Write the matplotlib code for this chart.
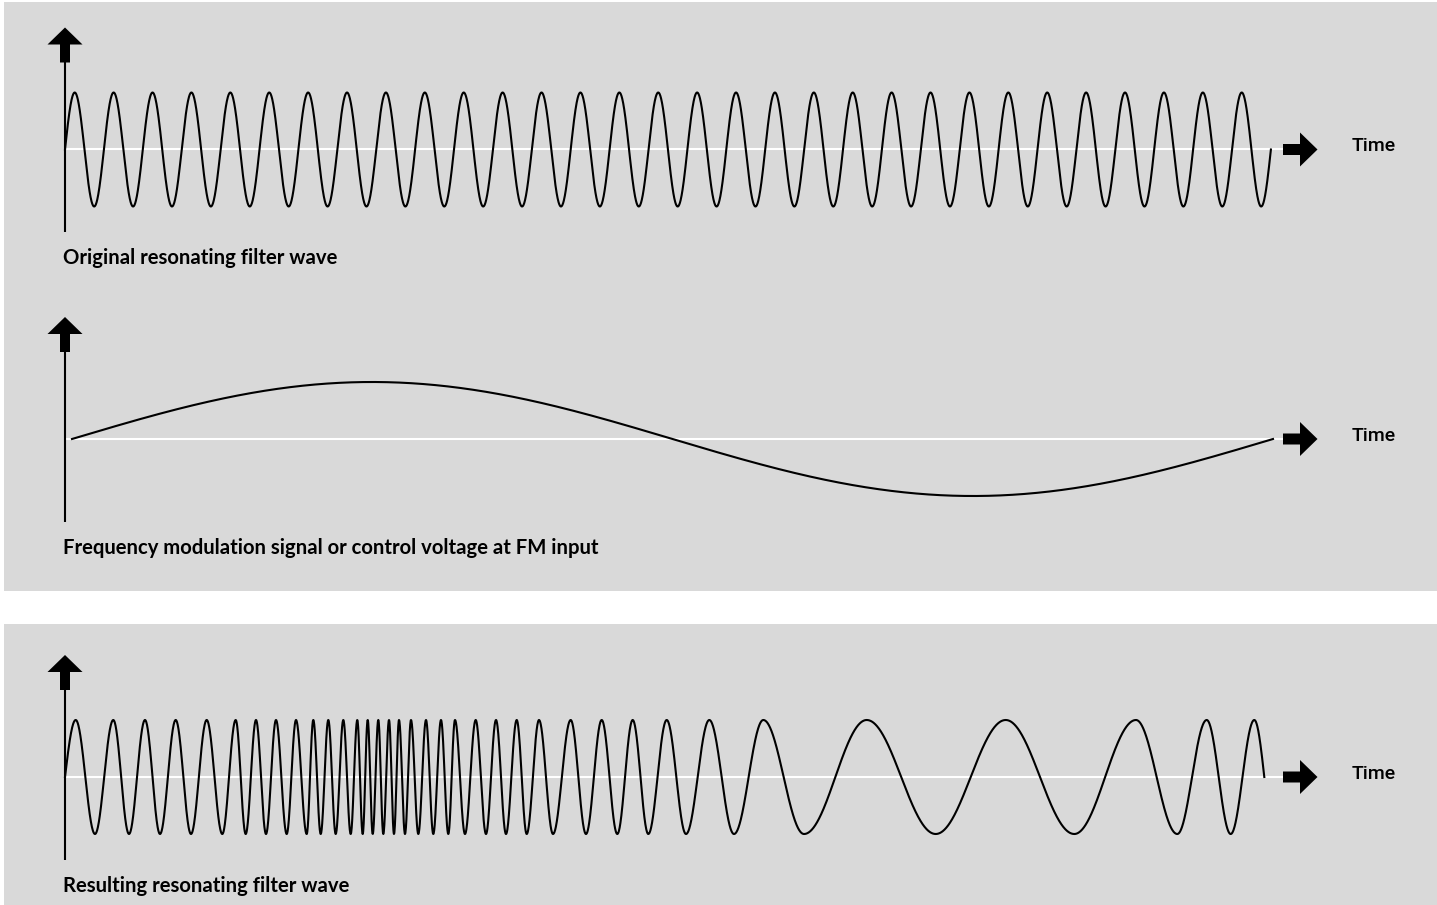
import numpy as np
import matplotlib.pyplot as plt
from matplotlib.patches import Rectangle, Polygon

W, H, DPI = 1437, 905, 100
GREY = '#d9d9d9'
PX_PER_AMP = 57.0          # vertical pixels per unit of amplitude

# ---- data (time measured from the vertical axis, original period ~38.9) ----
original_cycles = 31
original_period = 38.9

# modulation signal: start, extrema (peak, trough), end
fm_start = 7
fm_extrema = [307, 908]
fm_end = 1208

# resulting wave: alternating peak / trough times
result_start = 0
result_extrema = [
    10.7, 30, 48.3, 64, 80, 95, 110.7, 126, 141.7, 157.3,
    170.7, 180.7, 191, 201, 211, 221.7, 231, 241.7, 248.3, 255.7,
    263.3, 270.7, 278.3, 285.7, 292.3, 297.7, 302.7, 307.7, 313.3, 318.3,
    324, 329, 334, 340, 346, 353.3, 361, 368.3, 376, 383.3,
    390, 400, 410.7, 421, 431, 441, 451.7, 461.7, 474, 488,
    505.7, 521, 536.7, 552.3, 567.7, 583.3, 601.7, 621, 644.3, 669,
    698.3, 739, 801.7, 870.7, 940.7, 1009.3, 1071, 1112.3, 1141.7, 1165.7,
    1189.3,
]
result_end = 1199.3

labels = [
    'Original resonating filter wave',
    'Frequency modulation signal or control voltage at FM input',
    'Resulting resonating filter wave',
]
axis_label = 'Time'

# zero line of each plot, in pixels from the top of the figure
zero_rows = [149.5, 439, 777]


def wave(t0, extrema, t1, n=5000):
    # phase is 0 at the start, pi/2 + k*pi at each extremum,
    # and the curve ends on the next zero crossing
    kt = np.concatenate([[t0], extrema, [t1]])
    kp = np.concatenate([[0], np.pi / 2 + np.pi * np.arange(len(extrema)),
                         [np.pi * len(extrema)]])
    t = np.linspace(t0, t1, n)
    return t, np.sin(np.interp(t, kt, kp))


def py(px):
    return px / PX_PER_AMP


def decorate(ax, label):
    # white zero line
    ax.plot([0, 1218], [0, 0], color='white', lw=1.5, zorder=1,
            solid_capstyle='butt')
    # vertical axis and its block arrow
    ax.plot([0, 0], [py(88), py(-83)], color='black', lw=1.5, zorder=3,
            solid_capstyle='butt')
    up = [(-5, 87), (-5, 105), (-17.5, 105), (0, 122), (17.5, 105),
          (5, 105), (5, 87)]
    ax.add_patch(Polygon([(x, py(y)) for x, y in up], closed=True,
                         facecolor='black', edgecolor='none', zorder=4))
    # time arrow
    right = [(1218, -5.5), (1235, -5.5), (1235, -17), (1252.5, 0),
             (1235, 17), (1235, 5.5), (1218, 5.5)]
    ax.add_patch(Polygon([(x, py(y)) for x, y in right], closed=True,
                         facecolor='black', edgecolor='none', zorder=4))
    ax.text(1287, py(3), axis_label, fontsize=14, family='Roboto',
            fontweight='medium', va='center', ha='left')
    ax.text(-2, py(-109), label, fontsize=14.6, family='Lato',
            fontweight='bold', va='center', ha='left')


fig = plt.figure(figsize=(W / DPI, H / DPI), dpi=DPI)
fig.patch.set_facecolor('white')
fig.add_artist(Rectangle((4 / W, 1 - 591 / H), (W - 4) / W, 589 / H,
                         transform=fig.transFigure, facecolor=GREY,
                         edgecolor='none', zorder=-5))
fig.add_artist(Rectangle((4 / W, 0), (W - 4) / W, (H - 624) / H,
                         transform=fig.transFigure, facecolor=GREY,
                         edgecolor='none', zorder=-5))

band = 128
axes = []
for row in zero_rows:
    ax = fig.add_axes([0, 1 - (row + band) / H, 1, 2 * band / H])
    ax.set_xlim(-65, W - 65)
    ax.set_ylim(-py(band), py(band))
    ax.axis('off')
    ax.set_facecolor('none')
    axes.append(ax)

# original wave
t = np.linspace(0, original_cycles * original_period, 5000)
axes[0].plot(t, np.sin(2 * np.pi * t / original_period), color='black',
             lw=1.5, zorder=2)

# modulation signal
t, y = wave(fm_start, fm_extrema, fm_end)
axes[1].plot(t, y, color='black', lw=1.5, zorder=2)

# resulting wave
t, y = wave(result_start, result_extrema, result_end)
axes[2].plot(t, y, color='black', lw=1.5, zorder=2)

for ax, lab in zip(axes, labels):
    decorate(ax, lab)

fig.savefig('out.png', dpi=DPI, facecolor='white')
